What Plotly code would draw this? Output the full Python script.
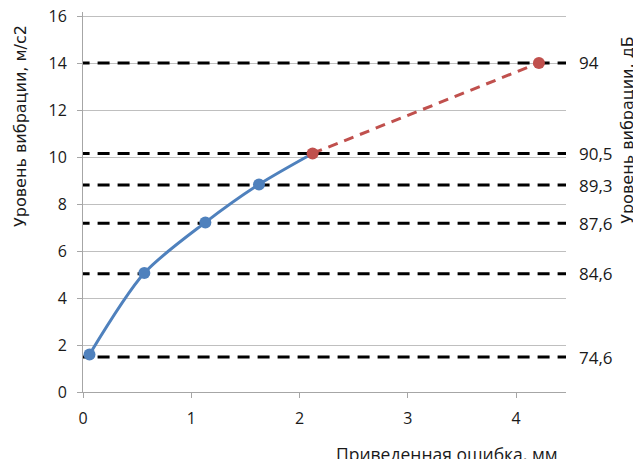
import plotly.graph_objects as go

# Data
blue_x = [0.06, 0.566, 1.13, 1.625, 2.12]
blue_y = [1.6, 5.07, 7.23, 8.85, 10.17]
red_x = [2.12, 4.21]
red_y = [10.17, 14.03]
level_y = [1.49, 5.04, 7.19, 8.82, 10.17, 14.03]
level_labels = ["74,6", "84,6", "87,6", "89,3", "90,5", "94"]
x_ticks = [0, 1, 2, 3, 4]
y_ticks = [0, 2, 4, 6, 8, 10, 12, 14, 16]

FONT = "Open Sans"
TFONT = "DejaVu Sans"
TXT = "#1a1a1a"
FS = 16

fig = go.Figure()

for yv in level_y:
    fig.add_trace(go.Scatter(x=[-0.05, 4.49], y=[yv, yv], mode="lines",
                             line=dict(color="black", width=3, dash="12px,8px"),
                             hoverinfo="skip", showlegend=False))

fig.add_trace(go.Scatter(x=blue_x, y=blue_y, mode="lines",
                         line=dict(color="#4F81BD", width=3, shape="spline", smoothing=0.8),
                         showlegend=False))
fig.add_trace(go.Scatter(x=blue_x[:-1], y=blue_y[:-1], mode="markers",
                         marker=dict(color="#4F81BD", size=12), showlegend=False))
fig.add_trace(go.Scatter(x=red_x, y=red_y, mode="lines+markers",
                         line=dict(color="#C0504D", width=3, dash="10px,7px"),
                         marker=dict(color="#C0504D", size=12), showlegend=False, cliponaxis=False))

annotations = []
for yv, lab in zip(level_y, level_labels):
    annotations.append(dict(x=1, xref="paper", y=yv, yref="y", text=lab, showarrow=False,
                            xanchor="left", xshift=11, font=dict(family=FONT, size=17, color=TXT)))
annotations.append(dict(x=1, xref="paper", y=0.69, yref="paper", text="Уровень вибрации, дБ",
                        textangle=-90, showarrow=False, xanchor="center", yanchor="middle",
                        xshift=62, font=dict(family=TFONT, size=16, color=TXT)))
annotations.append(dict(x=0, xref="paper", y=0.70, yref="paper", text="Уровень вибрации, м/с2",
                        textangle=-90, showarrow=False, xanchor="center", yanchor="middle",
                        xshift=-63, font=dict(family=TFONT, size=16, color=TXT)))
annotations.append(dict(x=(447 - 82.7) / 108.3, xref="x", y=0, yref="paper",
                        text="Приведенная ошибка, мм", showarrow=False, yshift=-62,
                        yanchor="middle", font=dict(family=FONT, size=17.5, color=TXT)))

fig.update_layout(
    width=633, height=451,
    margin=dict(l=75, r=75, t=4, b=67, autoexpand=False),
    plot_bgcolor="white", paper_bgcolor="white",
    font=dict(family=FONT, size=FS, color=TXT),
    annotations=annotations,
    xaxis=dict(range=[0, 4.46], tickvals=x_ticks, showgrid=False, zeroline=False,
               showline=True, linecolor="#A6A6A6", linewidth=1, ticks="outside",
               ticklen=5, tickcolor="#A6A6A6", tickfont=dict(size=FS), automargin=False,
               ticklabelstandoff=7),
    yaxis=dict(range=[0, 16.2], tickvals=y_ticks, showgrid=True, gridcolor="#BFBFBF",
               gridwidth=1, zeroline=False, showline=True, linecolor="#A6A6A6",
               ticks="outside", ticklen=5, tickcolor="#A6A6A6", tickfont=dict(size=FS),
               automargin=False, ticklabeloverflow="allow", ticklabelstandoff=7),
)

fig.write_html("out.html")
